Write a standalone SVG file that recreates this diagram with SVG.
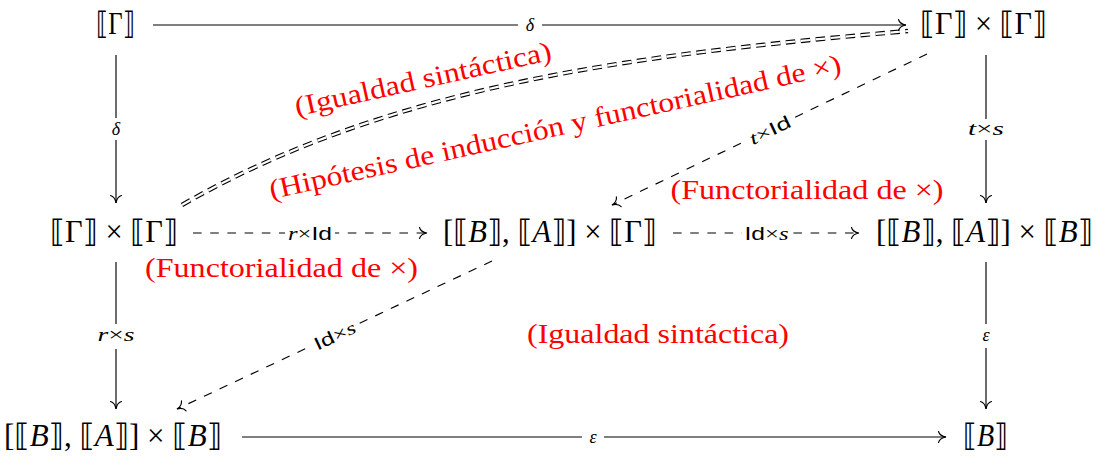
<svg xmlns="http://www.w3.org/2000/svg" width="1106" height="457" viewBox="0 0 1106 457">
<defs>
<style>
.node{font-size:31px;fill:#000;text-anchor:middle}
.it{font-style:italic}
.red{font-size:28px;fill:#ff0000;text-anchor:middle}
.lbl{font-size:18px;fill:#000;text-anchor:middle}
.edge{stroke:#000;stroke-width:1.15;fill:none}
.dash{stroke-dasharray:8.6 8.6}
.bg{fill:#fff}
</style>
<marker id="to" viewBox="-9 -7 11 14" refX="0" refY="0" markerWidth="11" markerHeight="14" markerUnits="userSpaceOnUse" orient="auto">
<path d="M-7.5,-5.5 C-6.5,-2 -2.5,-0.4 0,0 C-2.5,0.4 -6.5,2 -7.5,5.5" fill="none" stroke="#000" stroke-width="1.15" stroke-linecap="round"/>
</marker>
</defs>
<rect width="1106" height="457" fill="#fff"/>

<g id="connectors" font-family="Liberation Serif, DejaVu Serif, serif">
  <!-- double dashed equality curve -->
  <path d="M182,205 C398.5,80 659,52.8 908,31" fill="none" stroke="#000" stroke-width="4.4" stroke-dasharray="9.5 5.5"/>
  <path d="M182,205 C398.5,80 659,52.8 908,31" fill="none" stroke="#fff" stroke-width="2.2" stroke-dasharray="9.5 5.5"/>

  <!-- top: delta -->
  <line class="edge" x1="153" y1="25" x2="906" y2="25" marker-end="url(#to)"/>
  <rect class="bg" x="518" y="14" width="24" height="22"/>
  <text class="lbl it" x="530" y="31">δ</text>

  <!-- left upper: delta -->
  <line class="edge" x1="116" y1="55" x2="116" y2="203" marker-end="url(#to)"/>
  <rect class="bg" x="105" y="118" width="22" height="22"/>
  <text class="lbl it" x="116" y="135">δ</text>

  <!-- right upper: t x s -->
  <line class="edge" x1="986" y1="55" x2="986" y2="203" marker-end="url(#to)"/>
  <rect class="bg" x="965" y="119" width="42" height="21"/>
  <text class="lbl" x="986" y="135" textLength="36" lengthAdjust="spacingAndGlyphs"><tspan class="it">t</tspan>×<tspan class="it">s</tspan></text>

  <!-- mid: r x Id -->
  <line class="edge dash" x1="193" y1="233" x2="427" y2="233" marker-end="url(#to)"/>
  <rect class="bg" x="285" y="222" width="50" height="22"/>
  <text class="lbl" x="310" y="240" textLength="44" lengthAdjust="spacingAndGlyphs"><tspan class="it">r</tspan>×<tspan font-family="Liberation Sans, DejaVu Sans, sans-serif">Id</tspan></text>

  <!-- mid: Id x s -->
  <line class="edge dash" x1="673" y1="233" x2="859" y2="233" marker-end="url(#to)"/>
  <rect class="bg" x="742" y="222" width="49" height="22"/>
  <text class="lbl" x="766.5" y="240" textLength="44" lengthAdjust="spacingAndGlyphs"><tspan font-family="Liberation Sans, DejaVu Sans, sans-serif">Id</tspan>×<tspan class="it">s</tspan></text>

  <!-- left lower: r x s -->
  <line class="edge" x1="116" y1="262" x2="116" y2="409" marker-end="url(#to)"/>
  <rect class="bg" x="94" y="324" width="44" height="25"/>
  <text class="lbl" x="116" y="341" textLength="37" lengthAdjust="spacingAndGlyphs"><tspan class="it">r</tspan>×<tspan class="it">s</tspan></text>

  <!-- right lower: epsilon -->
  <line class="edge" x1="986" y1="262" x2="986" y2="409" marker-end="url(#to)"/>
  <rect class="bg" x="976" y="324" width="20" height="24"/>
  <text class="lbl it" x="986" y="341">ε</text>

  <!-- bottom: epsilon -->
  <line class="edge" x1="242" y1="437" x2="946" y2="437" marker-end="url(#to)"/>
  <rect class="bg" x="582" y="426" width="22" height="22"/>
  <text class="lbl it" x="593" y="443">ε</text>

  <!-- diagonal upper: t x Id -->
  <line class="edge dash" x1="927" y1="54" x2="612" y2="205" marker-end="url(#to)"/>
  <g transform="translate(769.5,129.5) rotate(-25.6)">
    <rect class="bg" x="-26" y="-11" width="52" height="22"/>
    <text class="lbl" x="0" y="7" textLength="44" lengthAdjust="spacingAndGlyphs"><tspan class="it">t</tspan>×<tspan font-family="Liberation Sans, DejaVu Sans, sans-serif">Id</tspan></text>
  </g>

  <!-- diagonal lower: Id x s -->
  <line class="edge dash" x1="492" y1="261" x2="177" y2="409" marker-end="url(#to)"/>
  <g transform="translate(334.5,335) rotate(-25.2)">
    <rect class="bg" x="-26" y="-11" width="52" height="22"/>
    <text class="lbl" x="0" y="7" textLength="44" lengthAdjust="spacingAndGlyphs"><tspan font-family="Liberation Sans, DejaVu Sans, sans-serif">Id</tspan>×<tspan class="it">s</tspan></text>
  </g>
</g>

<g font-family="Liberation Serif, DejaVu Serif, DejaVu Sans, serif">
<g id="n1"><text class="node" x="115.5" y="34" textLength="39" lengthAdjust="spacingAndGlyphs">⟦Γ⟧</text></g>
<g id="n2"><text class="node" x="983.5" y="34" textLength="127" lengthAdjust="spacingAndGlyphs">⟦Γ⟧ × ⟦Γ⟧</text></g>
<g id="n3"><text class="node" x="114" y="242" textLength="128" lengthAdjust="spacingAndGlyphs">⟦Γ⟧ × ⟦Γ⟧</text></g>
<g id="n4"><text class="node" x="550" y="242" textLength="214" lengthAdjust="spacingAndGlyphs">[⟦<tspan class="it">B</tspan>⟧, ⟦<tspan class="it">A</tspan>⟧] × ⟦Γ⟧</text></g>
<g id="n5"><text class="node" x="984.5" y="242" textLength="217" lengthAdjust="spacingAndGlyphs">[⟦<tspan class="it">B</tspan>⟧, ⟦<tspan class="it">A</tspan>⟧] × ⟦<tspan class="it">B</tspan>⟧</text></g>
<g id="n6"><text class="node" x="113" y="446" textLength="218" lengthAdjust="spacingAndGlyphs">[⟦<tspan class="it">B</tspan>⟧, ⟦<tspan class="it">A</tspan>⟧] × ⟦<tspan class="it">B</tspan>⟧</text></g>
<g id="n7"><text class="node" x="985.5" y="446" textLength="45" lengthAdjust="spacingAndGlyphs">⟦<tspan class="it">B</tspan>⟧</text></g>
</g>

<g id="annotations" font-family="Liberation Serif, DejaVu Serif, serif">
  <text class="red" transform="translate(425,88) rotate(-12.5)" textLength="262" lengthAdjust="spacingAndGlyphs">(Igualdad sintáctica)</text>
  <text class="red" transform="translate(557,136) rotate(-12.5)" textLength="585" lengthAdjust="spacingAndGlyphs">(Hipótesis de inducción y functorialidad de ×)</text>
  <text class="red" x="807" y="199" textLength="273" lengthAdjust="spacingAndGlyphs">(Functorialidad de ×)</text>
  <text class="red" x="281.5" y="277" textLength="273" lengthAdjust="spacingAndGlyphs">(Functorialidad de ×)</text>
  <text class="red" x="658" y="343" textLength="262" lengthAdjust="spacingAndGlyphs">(Igualdad sintáctica)</text>
</g>
</svg>
